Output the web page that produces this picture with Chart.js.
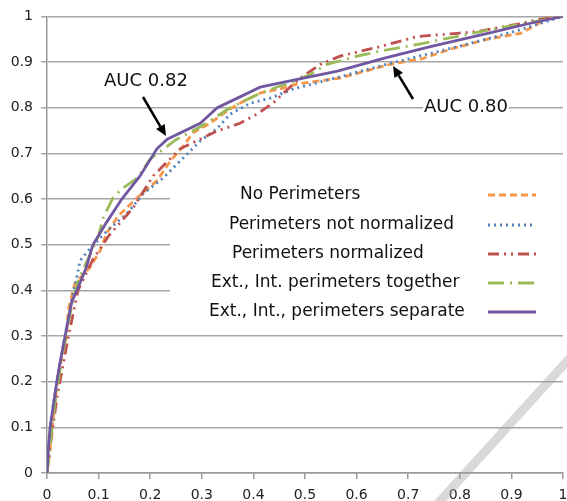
<!DOCTYPE html>
<html>
<head>
<meta charset="utf-8">
<script src="https://cdn.jsdelivr.net/npm/chart.js@4.4.1/dist/chart.umd.min.js"></script>
<style>
  html, body { margin: 0; padding: 0; background: #fff; }
  canvas { display: block; }
</style>
</head>
<body>
<canvas id="rocChart" width="567" height="501"></canvas>
<script>
// ROC curves, as [false positive rate, true positive rate]
const noPerimeters = [[0,0],[0.006,0.05],[0.01,0.1],[0.018,0.18],[0.028,0.25],[0.038,0.3],[0.041,0.356],[0.054,0.415],[0.083,0.45],[0.103,0.487],[0.116,0.526],[0.138,0.563],[0.175,0.603],[0.213,0.64],[0.239,0.683],[0.264,0.716],[0.283,0.745],[0.316,0.766],[0.349,0.793],[0.374,0.81],[0.413,0.832],[0.458,0.843],[0.485,0.852],[0.568,0.865],[0.665,0.895],[0.729,0.908],[0.787,0.93],[0.854,0.95],[0.918,0.963],[0.943,0.978],[0.97,0.996],[1,1]];
const perimNotNormalized = [[0,0],[0.005,0.08],[0.012,0.15],[0.022,0.22],[0.035,0.3],[0.048,0.38],[0.058,0.43],[0.064,0.465],[0.08,0.487],[0.116,0.53],[0.155,0.568],[0.186,0.611],[0.225,0.646],[0.264,0.69],[0.297,0.727],[0.33,0.755],[0.355,0.786],[0.394,0.81],[0.433,0.821],[0.477,0.841],[0.535,0.858],[0.665,0.897],[0.8,0.935],[0.9,0.965],[1,1]];
const perimNormalized = [[0,0],[0.005,0.05],[0.02,0.17],[0.04,0.29],[0.06,0.4],[0.09,0.47],[0.12,0.52],[0.167,0.581],[0.206,0.651],[0.258,0.71],[0.33,0.749],[0.374,0.766],[0.407,0.786],[0.438,0.81],[0.466,0.84],[0.491,0.865],[0.53,0.895],[0.568,0.913],[0.646,0.934],[0.718,0.956],[0.795,0.963],[0.834,0.967],[0.912,0.983],[0.95,0.993],[1,1]];
const perimTogether = [[0,0],[0.005,0.05],[0.015,0.15],[0.03,0.26],[0.045,0.35],[0.06,0.42],[0.08,0.47],[0.1,0.52],[0.109,0.559],[0.128,0.603],[0.147,0.624],[0.175,0.646],[0.2,0.688],[0.25,0.73],[0.3,0.76],[0.355,0.8],[0.41,0.83],[0.45,0.847],[0.47,0.853],[0.51,0.873],[0.543,0.895],[0.601,0.913],[0.646,0.924],[0.729,0.941],[0.776,0.952],[0.865,0.972],[0.918,0.983],[1,1]];
const perimSeparate = [[0,0],[0.003,0.06],[0.006,0.1],[0.019,0.2],[0.025,0.24],[0.035,0.3],[0.048,0.375],[0.058,0.4],[0.076,0.45],[0.089,0.5],[0.116,0.55],[0.145,0.6],[0.18,0.65],[0.213,0.71],[0.233,0.731],[0.297,0.766],[0.33,0.8],[0.369,0.821],[0.413,0.845],[0.485,0.862],[0.563,0.88],[0.652,0.908],[0.743,0.934],[0.854,0.963],[0.937,0.985],[1,1]];

const seriesLabels = ['No Perimeters', 'Perimeters not normalized', 'Perimeters normalized', 'Ext., Int. perimeters together', 'Ext., Int., perimeters separate'];
const axisTicks = [0, 0.1, 0.2, 0.3, 0.4, 0.5, 0.6, 0.7, 0.8, 0.9, 1];
const aucLabels = ['AUC 0.82', 'AUC 0.80'];

const FONT = '"DejaVu Sans", "Liberation Sans", Arial, sans-serif';

function toPoints(pairs) {
    return pairs.map(p => ({ x: p[0], y: p[1] }));
}

const styles = [
    { color: '#f79646', dash: [7, 4], width: 2.8 },
    { color: '#4f81bd', dash: [2, 4], width: 2.8 },
    { color: '#c0504d', dash: [11, 5, 2, 5, 2, 5], width: 2.8 },
    { color: '#9bbb59', dash: [16, 6, 2, 6], width: 2.8 },
    { color: '#7057a0', dash: [], width: 2.8 }
];
const allSeries = [noPerimeters, perimNotNormalized, perimNormalized, perimTogether, perimSeparate];

const datasets = allSeries.map((s, i) => ({
    label: seriesLabels[i],
    data: toPoints(s),
    showLine: true,
    borderColor: styles[i].color,
    borderDash: styles[i].dash,
    borderWidth: styles[i].width,
    pointRadius: 0,
    tension: 0,
    fill: false,
    order: 4 - i
}));

function arrow(ctx, x1, y1, x2, y2) {
    const ang = Math.atan2(y2 - y1, x2 - x1);
    const hl = 11, hw = 5;
    ctx.save();
    ctx.strokeStyle = '#000';
    ctx.fillStyle = '#000';
    ctx.lineWidth = 2.5;
    ctx.beginPath();
    ctx.moveTo(x1, y1);
    ctx.lineTo(x2 - Math.cos(ang) * hl, y2 - Math.sin(ang) * hl);
    ctx.stroke();
    ctx.beginPath();
    ctx.moveTo(x2, y2);
    ctx.lineTo(x2 - Math.cos(ang) * hl - Math.sin(ang) * hw, y2 - Math.sin(ang) * hl + Math.cos(ang) * hw);
    ctx.lineTo(x2 - Math.cos(ang) * hl + Math.sin(ang) * hw, y2 - Math.sin(ang) * hl - Math.cos(ang) * hw);
    ctx.closePath();
    ctx.fill();
    ctx.restore();
}

const decorations = {
    id: 'decorations',
    beforeDatasetsDraw(chart) {
        const ctx = chart.ctx;
        ctx.save();
        // legend box (white, covers the grid)
        ctx.fillStyle = '#fff';
        ctx.fillRect(170, 176, 393, 150);
        // white backing for the AUC labels
        ctx.fillRect(103, 70, 90, 22);
        ctx.fillRect(423, 96, 86, 22);

        ctx.font = '18px ' + FONT;
        ctx.fillStyle = '#111';
        ctx.textBaseline = 'middle';
        ctx.fillText(aucLabels[0], 104, 81);
        ctx.fillText(aucLabels[1], 424, 107);

        // legend entries
        const textX = [240, 229, 232, 211, 209];
        const rowY = [195, 225, 254, 283, 312];
        ctx.font = '17px ' + FONT;
        chart.data.datasets.forEach((ds, i) => {
            ctx.fillStyle = '#111';
            ctx.fillText(ds.label, textX[i], rowY[i]);
            ctx.strokeStyle = ds.borderColor;
            ctx.lineWidth = ds.borderWidth;
            ctx.setLineDash(ds.borderDash);
            ctx.beginPath();
            ctx.moveTo(488, rowY[i]);
            ctx.lineTo(536, rowY[i]);
            ctx.stroke();
        });
        ctx.setLineDash([]);
        ctx.restore();
    },
    afterDraw(chart) {
        const ctx = chart.ctx;
        arrow(ctx, 143, 97, 166, 136);
        arrow(ctx, 413, 99, 393, 66);
        // faint diagonal stroke in the lower right of the scan
        ctx.save();
        ctx.strokeStyle = 'rgba(160,160,160,0.4)';
        ctx.lineWidth = 9;
        ctx.beginPath();
        ctx.moveTo(578, 349);
        ctx.lineTo(432, 510);
        ctx.stroke();
        ctx.restore();
    }
};

const ctx = document.getElementById('rocChart').getContext('2d');
new Chart(ctx, {
    type: 'scatter',
    data: { datasets: datasets },
    options: {
        responsive: false,
        animation: false,
        layout: { padding: { top: 15, right: 4, left: 0, bottom: 0 } },
        plugins: {
            legend: { display: false },
            tooltip: { enabled: false }
        },
        scales: {
            x: {
                type: 'linear',
                min: 0,
                max: 1,
                afterBuildTicks: function(scale) {
                    scale.ticks = axisTicks.map(v => ({ value: v }));
                },
                afterFit: function(scale) {
                    scale.height = 28;
                    scale.paddingLeft = 0;
                    scale.paddingRight = 0;
                },
                grid: {
                    drawOnChartArea: false,
                    drawTicks: true,
                    tickLength: 6,
                    color: '#9a9a9a',
                    lineWidth: 1.5
                },
                border: { color: '#9a9a9a', width: 1.5 },
                ticks: {
                    padding: 8,
                    maxRotation: 0,
                    color: '#222',
                    font: { family: FONT, size: 14 },
                    callback: v => String(v)
                }
            },
            y: {
                type: 'linear',
                min: 0,
                max: 1,
                afterBuildTicks: function(scale) {
                    scale.ticks = axisTicks.map(v => ({ value: v }));
                },
                afterFit: function(scale) {
                    scale.width = 47;
                },
                grid: {
                    drawTicks: true,
                    tickLength: 6,
                    color: '#a6a6a6',
                    lineWidth: 1.5
                },
                border: { color: '#9a9a9a', width: 1.5 },
                ticks: {
                    padding: 8,
                    color: '#222',
                    font: { family: FONT, size: 14 },
                    callback: v => String(v)
                }
            }
        }
    },
    plugins: [decorations]
});
</script>
</body>
</html>
